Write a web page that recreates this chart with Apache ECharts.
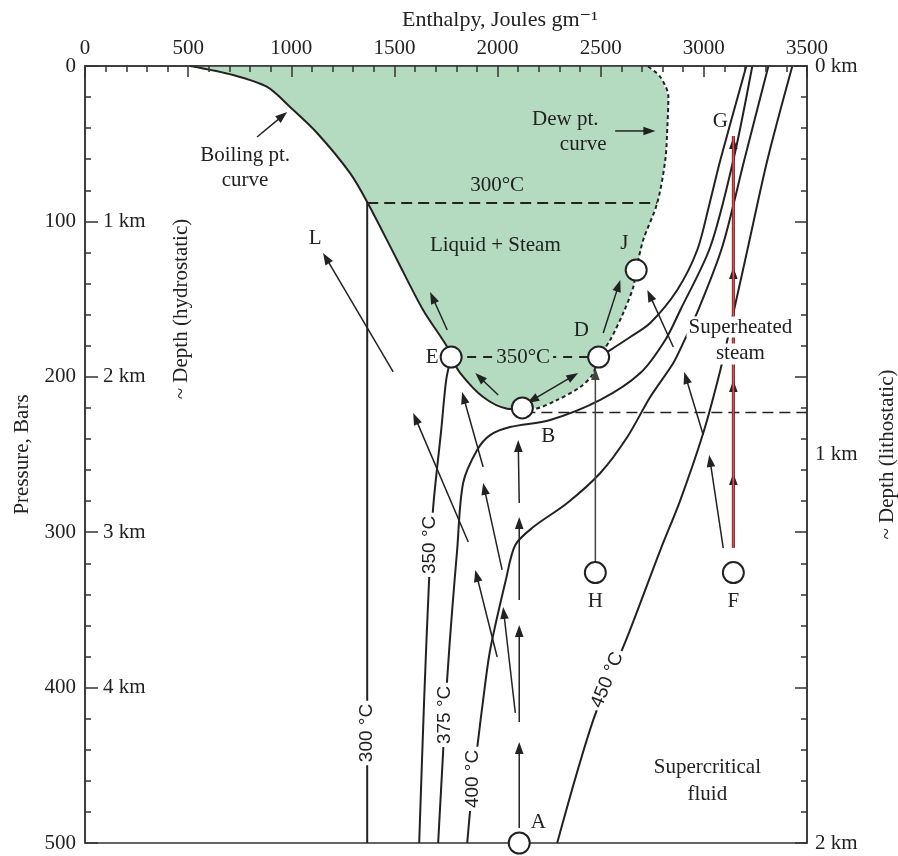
<!DOCTYPE html>
<html><head><meta charset="utf-8">
<script src="https://cdn.jsdelivr.net/npm/echarts@6/dist/echarts.min.js"></script>
<style>html,body{margin:0;padding:0;background:#fff}#c{width:898px;height:856px}</style>
</head><body><div id="c"></div>
<script>
// ---------- axis ticks / labels ----------
const enthalpyRange = [0, 3500];
const pressureRange = [0, 500];
const hydroKmLabels = ['1 km', '2 km', '3 km', '4 km'];
const lithoKmLabels = ['0 km', '1 km', '2 km'];

// ---------- curves: [enthalpy J/g, pressure bar] ----------
const boilingCurve = [[510,0],[718,5.8],[883,13.5],[994,26.4],[1125,43.1],[1285,68.9],[1368,87.5],[1513,124.8],[1639,157],[1756,180.8],[1775,187.3],[1819,197.6],[1930,213],[2047,220.5],[2120,221]];
const dewCurve = [[2120,221],[2173,220.8],[2289,214.9],[2401,206.6],[2459,198.8],[2493,187.3],[2546,176.3],[2609,159],[2658,142.2],[2672,131.3],[2706,112],[2774,88.2],[2813,60.5],[2823,39.3],[2828,20],[2789,7.1],[2726,0]];
const iso300 = [[1368,87.5],[1368,500]];
const iso300Dashed = [[1368,88.2],[2774,88.2]];
const iso350Low = [[1620,500],[1644,408],[1668,330.8],[1688,283.8],[1727,234],[1751,202],[1775,187.3]];
const iso350TwoPhase = [[1775,187.3],[2490,187.3]];
const iso350High = [[2490,187.3],[2546,182.8],[2643,174.4],[2740,165.4],[2871,144.1],[2968,118.4],[3026,89.4],[3080,60.5],[3206,0]];
const iso375 = [[3235,0],[3143,60.5],[3031,116.5],[2886,157],[2813,176.3],[2692,197.6],[2498,214.9],[2255,227.8],[2061,232.3],[1964,237.5],[1901,247.1],[1833,268.3],[1804,311.5],[1780,350],[1756,393.8],[1736,441.4],[1712,500]];
const iso400 = [[3313,0],[3196,60.5],[3089,116.5],[2973,157],[2900,178.2],[2852,191.1],[2740,213],[2629,238.7],[2498,261.9],[2338,281.2],[2173,296.7],[2086,308.2],[2040,330.8],[1964,375.8],[1930,408],[1906,433.7],[1872,472.3],[1853,500]];
const iso450 = [[2289,500],[2464,420.8],[2629,367.4],[2789,311.5],[2886,279.3],[2997,236.2],[3080,195.6],[3143,159],[3211,118.4],[3308,60.5],[3429,0]];
const criticalPressureLine = [[2130,223],[3500,223]];
const pathFG = [[3143,310],[3143,45]];

// ---------- state points ----------
const statePoints = [[2105,500],[2120,220],[2490,187.3],[1775,187.3],[2672,131.3],[2474,326],[3143,326]];

// ---------- arrows: [tailH, tailP, headH, headP] ----------
const arrowsMain = [
  [1998,380.3,1892,324.3],[1858,306.3,1591,223.3],[1494,196.9,1154,120.3],
  [2086,416.3,2027,348.1],[2022,324.3,1930,268.3],[1930,258,1828,209.8],[1756,169.9,1673,145.4],
  [2105,490.3,2105,435],[2105,422.1,2105,359.7],[2105,343.6,2105,290.2],[2105,281.2,2100,240.7],
  [2003,211.7,1892,197.6],
  [2512,171.8,2595,137.7],
  [3094,310.2,3026,250.3],[2997,237.5,2905,196.9],[2852,180.8,2726,144.1],
  [834,45.7,980,29.6],[2570,41.8,2765,41.8]
];
const arrowsDouble = [[2144,216.9,2391,197.6]];
const arrowsGrey = [[2474,319.2,2474,194.3]];
const arrowHeadsFG = [[3143,300,3143,261.9],[3143,230,3143,202],[3143,160,3143,129.3],[3143,80,3143,45.7]];

// ---------- text: [text, enthalpy, pressure] ----------
const regionLabels = [
  ['Boiling pt.',776,57.3],['curve',776,73.4],
  ['Dew pt.',2328,34.1],['curve',2415,50.8],
  ['300°C',1998,77.2],['Liquid + Steam',1989,115.8],
  ['Supercritical',3017,451.7],['fluid',3017,469.1]
];
const maskedLabels = [['Superheated',3177,168],['steam',3177,185.3]];
const pointLabels = [['L',1116,110.7],['E',1683,187.3],['D',2406,169.9],['J',2614,114.5],['G',3080,36],['B',2246,238.7],['A',2197,486.5],['H',2474,344.9],['F',3143,344.9]];
const isothermLabels = [['300 °C',1368,429.2],['350 °C',1673,308.2],['375 °C',1746,417.6],['400 °C',1882,458.8],['450 °C',2532,395.1]];
const isothermLabelAngles = [90,90,90,90,68];
const twoPhaseLabel = [['350°C',2124,187.3]];
const sideLabel = [['~ Depth (hydrostatic)',468,156.4]];

// ---------- styles ----------
const SERIF = '"Liberation Serif","DejaVu Serif",serif';
const SANS = '"Liberation Sans","DejaVu Sans",sans-serif';
const INK = '#222';
const GREEN = '#b4dbbf';

function lineS(data, style, smooth, z) {
  return {type:'line', data, symbol:'none', showSymbol:false, smooth: smooth, z: z||3, silent:true,
    lineStyle: Object.assign({color:INK, width:2}, style)};
}
function arrowS(rows, color, width, dbl, headOnly) {
  return {type:'custom', coordinateSystem:'cartesian2d', z:4, silent:true,
    data: rows.map(r => [r[0], r[1], r[2], r[3]]), encode:{x:[0,2], y:[1,3]},
    renderItem: (params, api) => {
      const p1 = api.coord([api.value(0), api.value(1)]);
      const p2 = api.coord([api.value(2), api.value(3)]);
      const dx = p2[0]-p1[0], dy = p2[1]-p1[1];
      const L = Math.hypot(dx, dy) || 1; const ux = dx/L, uy = dy/L;
      const hl = 12, hw = 4.3;
      const head = (tip, ux, uy) => {
        const bx = tip[0]-ux*hl, by = tip[1]-uy*hl;
        return {type:'polygon', shape:{points:[[tip[0],tip[1]],[bx-uy*hw,by+ux*hw],[bx+uy*hw,by-ux*hw]]}, style:{fill:color}};
      };
      const ch = [head(p2, ux, uy)];
      if (!headOnly) {
        const s = dbl ? [p1[0]+ux*hl*0.8, p1[1]+uy*hl*0.8] : p1;
        ch.push({type:'line', shape:{x1:s[0], y1:s[1], x2:p2[0]-ux*hl*0.8, y2:p2[1]-uy*hl*0.8}, style:{stroke:color, lineWidth:width}});
        if (dbl) ch.push(head(p1, -ux, -uy));
      }
      return {type:'group', children: ch};
    }};
}
function textS(items, styleFn) {
  return {type:'custom', coordinateSystem:'cartesian2d', z:6, silent:true,
    data: items.map(it => [it[1], it[2]]), encode:{x:0, y:1},
    renderItem: (params, api) => {
      const it = items[params.dataIndex];
      const c = api.coord([api.value(0), api.value(1)]);
      const st = styleFn(params.dataIndex);
      return {type:'text', x:c[0], y:c[1], rotation:(st.rotate||0)*Math.PI/180, z2:10,
        style:{text: it[0], font: st.font, fill: INK, align:'center', verticalAlign:'middle',
               backgroundColor: st.bg, padding: st.pad}};
    }};
}

const axisLineStyle = {color:'#333', width:1.5};
const chart = echarts.init(document.getElementById('c'));
chart.setOption({
  animation:false,
  backgroundColor:'#fff',
  title:{text:'Enthalpy, Joules gm⁻¹', left:397, top:4,
    textStyle:{fontFamily:SERIF, fontSize:22, fontWeight:'normal', color:INK}},
  grid:{left:85, right:91, top:66, bottom:13, show:true, borderColor:'#333', borderWidth:1.5,
    containLabel:false, outerBoundsMode:'none'},
  xAxis:[{type:'value', position:'top', min:enthalpyRange[0], max:enthalpyRange[1], interval:500, z:10,
    axisLine:{show:true, lineStyle:axisLineStyle},
    axisTick:{show:true, inside:true, length:11, lineStyle:axisLineStyle},
    minorTick:{show:true, splitNumber:5, length:6, lineStyle:axisLineStyle},
    splitLine:{show:false}, minorSplitLine:{show:false},
    axisLabel:{fontFamily:SERIF, fontSize:21, color:INK, margin:7, formatter: v => String(v)}}],
  yAxis:[
    {type:'value', position:'left', inverse:true, min:pressureRange[0], max:pressureRange[1], interval:100, z:10,
     axisLine:{show:true, lineStyle:axisLineStyle},
     axisTick:{show:true, inside:true, length:13, lineStyle:axisLineStyle},
     minorTick:{show:true, splitNumber:5, length:6, lineStyle:axisLineStyle},
     splitLine:{show:false},
     axisLabel:{fontFamily:SERIF, fontSize:21, color:INK, margin:9, formatter: v => String(v)},
     name:'Pressure, Bars', nameLocation:'middle', nameRotate:90, nameGap:52,
     nameTextStyle:{fontFamily:SERIF, fontSize:21, color:INK}},
    {type:'value', position:'left', inverse:true, min:0, max:5, interval:1, z:10,
     axisLine:{show:false}, axisTick:{show:false}, splitLine:{show:false},
     axisLabel:{inside:true, margin:18, fontFamily:SERIF, fontSize:21, color:INK,
       formatter: v => (v >= 1 && v <= 4) ? hydroKmLabels[v-1] : ''}},
    {type:'value', position:'right', inverse:true, min:pressureRange[0], max:pressureRange[1], interval:100, z:10,
     axisLine:{show:true, lineStyle:axisLineStyle},
     axisTick:{show:true, inside:true, length:12, lineStyle:axisLineStyle},
     minorTick:{show:true, splitNumber:5, length:6, lineStyle:axisLineStyle},
     splitLine:{show:false}, axisLabel:{show:false},
     name:'~ Depth (lithostatic)', nameLocation:'middle', nameRotate:90, nameGap:70,
     nameTextStyle:{fontFamily:SERIF, fontSize:21, color:INK}},
    {type:'value', position:'right', inverse:true, min:0, max:2, interval:1, z:10,
     axisLine:{show:false}, axisTick:{show:false}, splitLine:{show:false},
     axisLabel:{margin:8, fontFamily:SERIF, fontSize:21, color:INK, formatter: v => lithoKmLabels[v] || ''}}
  ],
  series:[
    {type:'custom', coordinateSystem:'cartesian2d', z:1, silent:true, data:[[0,0]], encode:{x:0,y:1},
     renderItem:(params, api) => ({type:'polygon',
       shape:{points: boilingCurve.concat(dewCurve).map(d => api.coord(d))},
       style:{fill:GREEN}})},
    lineS(iso300, {}, false, 2),
    lineS(iso300Dashed, {type:[11,6]}, false, 2),
    lineS(iso350Low, {}, 0.3, 2),
    lineS(iso350TwoPhase, {type:[9,7]}, false, 2),
    lineS(iso350High, {}, 0.3, 2),
    lineS(iso375, {}, 0.3, 2),
    lineS(iso400, {}, 0.3, 2),
    lineS(iso450, {}, 0.3, 2),
    lineS(criticalPressureLine, {type:[11,6], width:1.5}, false, 2),
    lineS(boilingCurve, {}, 0.3, 3),
    lineS(dewCurve, {type:[4,3]}, 0.3, 3),
    lineS(pathFG, {color:'#3a1515', width:3}, false, 4),
    lineS(pathFG, {color:'#e84a44', width:1.8}, false, 4),
    arrowS(arrowsMain, INK, 1.5, false, false),
    arrowS(arrowsDouble, INK, 1.5, true, false),
    arrowS(arrowsGrey, '#444', 1.5, false, false),
    arrowS(arrowHeadsFG, INK, 1.5, false, true),
    {type:'scatter', data:statePoints, symbol:'circle', symbolSize:21, z:5, silent:true,
     itemStyle:{color:'#fff', borderColor:INK, borderWidth:2, opacity:1}},
    textS(regionLabels, () => ({font:'21px ' + SERIF})),
    textS(maskedLabels, () => ({font:'21px ' + SERIF, bg:'#fff', pad:[0,2]})),
    textS(pointLabels, () => ({font:'21px ' + SERIF})),
    textS(isothermLabels, i => ({font:'19px ' + SANS, bg:'#fff', pad:[0,3], rotate:isothermLabelAngles[i]})),
    textS(twoPhaseLabel, () => ({font:'21px ' + SERIF, bg:GREEN, pad:[0,3]})),
    textS(sideLabel, () => ({font:'21px ' + SERIF, rotate:90}))
  ]
});
</script></body></html>
